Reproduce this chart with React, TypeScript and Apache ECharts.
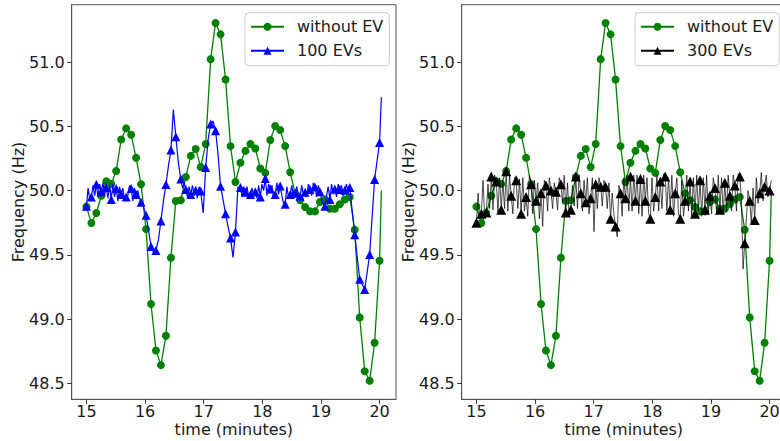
import React, { useEffect, useRef } from "react";
import * as echarts from "echarts";

// time of each marked sample (minutes)
const timeMinutes = [
  15.0, 15.085, 15.169, 15.254, 15.339, 15.424, 15.508, 15.593, 15.678, 15.763,
  15.847, 15.932, 16.017, 16.102, 16.186, 16.271, 16.356, 16.441, 16.525, 16.61,
  16.695, 16.78, 16.864, 16.949, 17.034, 17.119, 17.203, 17.288, 17.373, 17.458,
  17.542, 17.627, 17.712, 17.797, 17.881, 17.966, 18.051, 18.136, 18.22, 18.305,
  18.39, 18.475, 18.559, 18.644, 18.729, 18.814, 18.898, 18.983, 19.068, 19.153,
  19.237, 19.322, 19.407, 19.492, 19.576, 19.661, 19.746, 19.831, 19.915, 20.0,
];
const endTime = 20.03;

const withoutEV = [
  49.875, 49.747, 49.825, 49.96, 50.073, 50.052, 50.153, 50.398, 50.484, 50.434,
  50.255, 50.049, 49.7, 49.117, 48.755, 48.641, 48.87, 49.477, 49.919, 49.924,
  50.106, 50.27, 50.323, 50.184, 50.362, 51.023, 51.305, 51.216, 50.864, 50.346,
  50.067, 50.216, 50.309, 50.362, 50.328, 50.172, 50.138, 50.393, 50.502, 50.471,
  50.346, 50.143, 49.977, 49.924, 49.872, 49.838, 49.838, 49.911, 49.93, 49.859,
  49.859, 49.893, 49.93, 49.95, 49.695, 49.0125, 48.594, 48.52, 48.815, 49.453,
];
const withoutEVEnd = 50.0;

const ev100Markers = [
  49.877, 49.95, 50.05, 49.99, 50.023, 49.93, 50.016, 49.97, 49.95, 50.016,
  49.97, 49.91, 49.807, 49.565, 49.534, 49.763, 50.047, 50.315, 50.419, 50.09,
  50.008, 49.97, 50.002, 49.997, 50.18, 50.518, 50.466, 50.034, 49.82, 49.63,
  49.677, 50.023, 49.987, 49.97, 49.99, 49.95, 50.094, 50.013, 49.97, 50.036,
  49.893, 49.97, 49.98, 49.955, 49.987, 50.008, 50.028, 49.99, 49.877, 49.93,
  50.013, 50.008, 50.002, 50.023, 49.656, 49.31, 49.229, 49.502, 50.086, 50.375,
];
// unmarked samples between consecutive markers
const ev100Between = [
  [50.02, 49.93], [50.04, 49.96], [49.95, 50.05], [50.06, 49.97], [49.94, 50.04],
  [50.05, 49.95], [49.92, 50.03], [50.02, 49.93], [49.96, 50.04], [49.92, 50.02],
  [50.0, 49.94], [49.87], [49.69], [49.52], [49.62],
  [49.92], [50.19], [50.63], [50.22], [50.02, 50.06],
  [49.95, 50.03], [50.04, 49.96], [49.94, 50.03], [49.825], [50.4],
  [50.54], [50.28], [49.93], [49.72], [49.48],
  [50.03], [49.95, 50.03], [50.03, 49.94], [50.02, 49.95], [49.94, 50.04],
  [50.05, 50.0], [49.96, 50.05], [50.04, 49.94], [50.06, 49.97], [49.96, 49.9],
  [50.03, 49.95], [50.04, 49.94], [50.03, 49.95], [50.04, 49.96], [49.95, 50.05],
  [49.96, 50.06], [49.95, 50.04], [49.93, 49.9], [49.96, 50.03], [50.05, 49.97],
  [49.95, 50.05], [50.04, 49.96], [50.05, 49.98], [], [],
  [], [], [], [],
];
const ev100End = 50.727;

const ev300Markers = [
  49.75, 49.82, 49.83, 50.11, 50.07, 49.85, 50.15, 49.96, 50.08, 49.82,
  49.95, 50.05, 49.92, 49.98, 50.04, 50.0, 49.99, 50.05, 49.83, 49.85,
  50.11, 49.98, 49.91, 49.94, 50.05, 50.03, 50.03, 49.78, 49.72, 49.98,
  49.94, 50.11, 49.92, 50.09, 49.92, 49.78, 49.95, 50.07, 50.11, 49.85,
  49.98, 49.78, 49.92, 50.07, 49.82, 50.08, 49.85, 49.96, 50.02, 49.85,
  50.06, 49.96, 50.04, 50.11, 49.59, 49.92, 49.77, 49.98, 50.03, 50.0,
];
const ev300Between = [
  [49.98, 49.78], [50.08, 49.8], [50.05, 49.86], [49.85, 50.12], [49.83, 50.1],
  [50.08, 49.86], [49.84, 50.12], [49.82, 50.1], [49.86, 50.09], [50.1, 49.84],
  [49.8, 50.12], [49.82, 50.08], [50.06, 49.78], [49.72, 50.08], [49.84, 50.1],
  [49.86, 50.06], [49.85, 50.1], [49.9, 50.12], [50.06, 49.8], [50.04, 49.88],
  [49.86, 50.12], [49.84, 50.08], [50.1, 49.82], [50.1, 49.68], [49.86, 50.1],
  [49.88, 50.08], [49.86, 50.06], [49.98, 49.82], [49.64, 50.04], [49.8, 50.1],
  [50.12, 49.84], [49.84, 50.12], [50.12, 49.82], [49.8, 50.12], [50.1, 49.82],
  [50.1, 49.84], [50.12, 49.84], [49.86, 50.13], [49.84, 50.1], [50.12, 49.8],
  [50.1, 49.82], [50.08, 49.8], [50.12, 49.84], [49.8, 50.1], [50.12, 49.84],
  [49.8, 50.1], [50.12, 49.82], [49.82, 50.1], [49.82, 50.12], [50.1, 49.82],
  [49.84, 50.12], [49.84, 50.12], [49.84, 50.13], [49.92, 49.39], [49.78, 50.0],
  [49.74, 50.02], [50.1, 49.9], [50.14, 49.92], [50.12, 49.95],
];
const ev300End = 50.08;

const xTicks = [15, 16, 17, 18, 19, 20];
const yTicks = [48.5, 49.0, 49.5, 50.0, 50.5, 51.0];

const FONT = "DejaVu Sans";
const TEXT = "#1a1a1a";
const FRAME = "#555555";

function buildDense(markers: number[], between: number[][], end: number) {
  const out: number[][] = [];
  for (let i = 0; i < markers.length; i++) {
    const t0 = timeMinutes[i];
    out.push([t0, markers[i]]);
    const t1 = i + 1 < timeMinutes.length ? timeMinutes[i + 1] : endTime;
    const mids = between[i] || [];
    mids.forEach((v, k) => {
      out.push([t0 + ((t1 - t0) * (k + 1)) / (mids.length + 1), v]);
    });
  }
  out.push([endTime, end]);
  return out;
}

function markerPoints(values: number[]) {
  return values.map((v, i) => [timeMinutes[i], v]);
}

function greenLine() {
  const out = markerPoints(withoutEV);
  out.push([endTime, withoutEVEnd]);
  return out;
}

function makeX(gridIndex: number) {
  return {
    type: "value",
    gridIndex,
    min: 14.749,
    max: 20.28,
    axisLine: { show: true, lineStyle: { color: FRAME, width: 1 } },
    axisTick: { show: true, length: 4.5, customValues: xTicks, lineStyle: { color: "#333", width: 1 } },
    axisLabel: {
      customValues: xTicks,
      fontSize: 16,
      fontFamily: FONT,
      color: TEXT,
      margin: 4,
      formatter: (v: number) => String(Math.round(v)),
    },
    splitLine: { show: false },
    name: "time (minutes)",
    nameLocation: "middle",
    nameGap: 22,
    nameMoveOverlap: false,
    nameTextStyle: { fontSize: 16, fontFamily: FONT, color: TEXT },
  };
}

function makeY(gridIndex: number) {
  return {
    type: "value",
    gridIndex,
    min: 48.375,
    max: 51.447,
    axisLine: { show: true, lineStyle: { color: FRAME, width: 1 } },
    axisTick: { show: true, length: 4.5, customValues: yTicks, lineStyle: { color: "#333", width: 1 } },
    axisLabel: {
      customValues: yTicks,
      fontSize: 16,
      fontFamily: FONT,
      color: TEXT,
      margin: 7,
      formatter: (v: number) => v.toFixed(1),
    },
    splitLine: { show: false },
    name: "Frequency (Hz)",
    nameLocation: "middle",
    nameGap: 45,
    nameMoveOverlap: false,
    nameTextStyle: { fontSize: 16, fontFamily: FONT, color: TEXT },
  };
}

function legendAt(left: number, names: string[]) {
  return {
    data: names,
    left,
    top: 12.7,
    orient: "vertical",
    itemWidth: 33,
    itemHeight: 10,
    itemGap: 8,
    padding: [6, 6, 7, 5],
    borderColor: "#cccccc",
    borderWidth: 1,
    borderRadius: 4,
    backgroundColor: "rgba(255,255,255,0.8)",
    selectedMode: false,
    textStyle: { fontSize: 16, fontFamily: FONT, color: TEXT, lineHeight: 16, padding: [0, 0, 0, 8] },
  };
}

// line part (legend entry keeps series-level symbol; points themselves unmarked)
function lineSeries(name: string, data: number[][], color: string, symbol: string, width: number, gi: number, z: number) {
  return {
    type: "line",
    name,
    xAxisIndex: gi,
    yAxisIndex: gi,
    data,
    symbol,
    showSymbol: false,
    itemStyle: { color },
    lineStyle: { color, width },
    emphasis: { disabled: true },
    z,
  };
}

function markerSeries(name: string, data: number[][], color: string, symbol: string, size: number, gi: number, z: number) {
  return {
    type: "scatter",
    name,
    xAxisIndex: gi,
    yAxisIndex: gi,
    data,
    symbol,
    symbolSize: size,
    itemStyle: { color, opacity: 1 },
    emphasis: { disabled: true },
    z,
  };
}

export default function App() {
  const ref = useRef<HTMLDivElement>(null);
  useEffect(() => {
    if (!ref.current) return;
    const chart = echarts.init(ref.current, undefined, { renderer: "svg" });
    const gridBase = {
      top: 4.7,
      width: 324.3,
      height: 394.6,
      show: true,
      borderColor: FRAME,
      borderWidth: 1,
      backgroundColor: "transparent",
      containLabel: false,
      outerBoundsMode: "none",
    };
    chart.setOption({
      animation: false,
      backgroundColor: "#ffffff",
      grid: [
        { ...gridBase, left: 71.7 },
        { ...gridBase, left: 461.7 },
      ],
      xAxis: [makeX(0), makeX(1)],
      yAxis: [makeY(0), makeY(1)],
      legend: [legendAt(245, ["without EV", "100 EVs"]), legendAt(635, ["without EV", "300 EVs"])],
      series: [
        lineSeries("without EV", greenLine(), "#008000", "circle", 1.3, 0, 2),
        markerSeries("without EV marks L", markerPoints(withoutEV), "#008000", "circle", 8, 0, 3),
        lineSeries("100 EVs", buildDense(ev100Markers, ev100Between, ev100End), "#0000ff", "triangle", 1.2, 0, 4),
        markerSeries("100 EVs marks", markerPoints(ev100Markers), "#0000ff", "triangle", 9, 0, 5),
        lineSeries("without EV", greenLine(), "#008000", "circle", 1.3, 1, 2),
        markerSeries("without EV marks R", markerPoints(withoutEV), "#008000", "circle", 8, 1, 3),
        lineSeries("300 EVs", buildDense(ev300Markers, ev300Between, ev300End), "#000000", "triangle", 0.7, 1, 4),
        markerSeries("300 EVs marks", markerPoints(ev300Markers), "#000000", "triangle", 10, 1, 5),
      ],
    });
    return () => chart.dispose();
  }, []);
  return (
    <div
      ref={ref}
      style={{ position: "fixed", left: 0, top: 0, width: 780, height: 441, background: "#fff" }}
    />
  );
}
